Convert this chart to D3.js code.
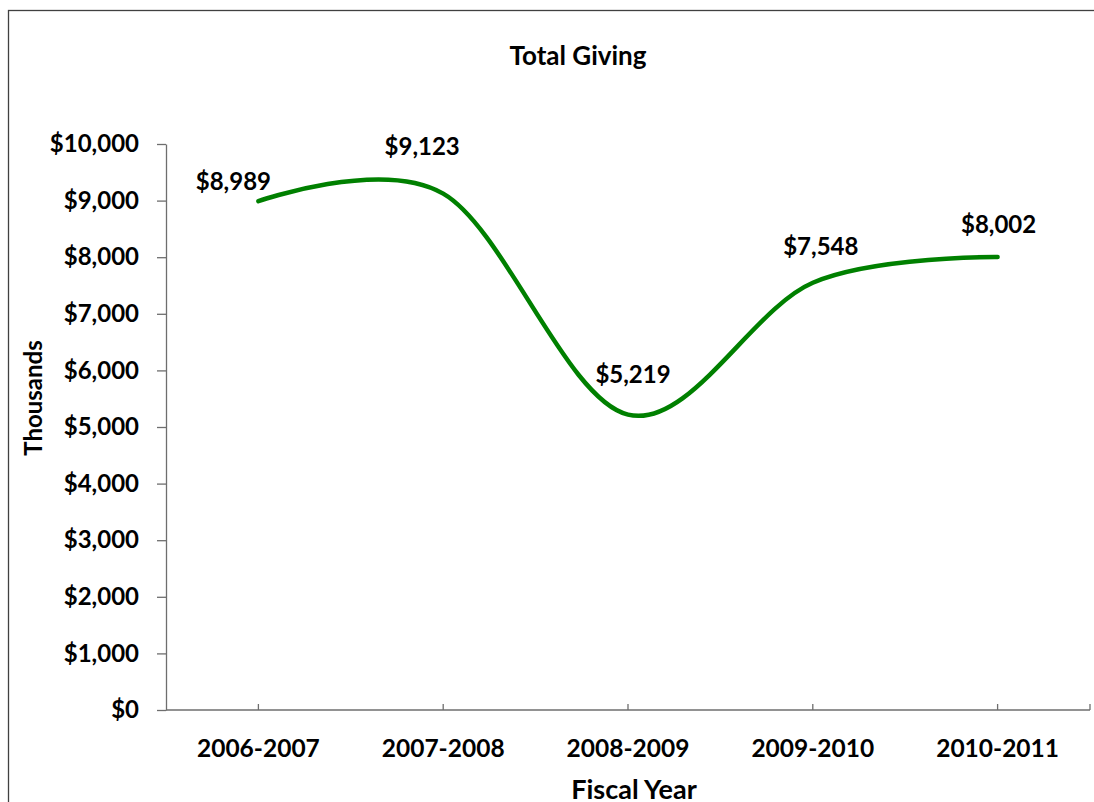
<!DOCTYPE html>
<html>
<head>
<meta charset="utf-8">
<script src="https://cdn.jsdelivr.net/npm/d3@7"></script>
<style>
  body{margin:0;background:#fff;}
  text{font-family:Lato,"Open Sans",sans-serif;font-weight:bold;fill:#000;}
</style>
</head>
<body>
<div id="chart"></div>
<script>
var years = ["2006-2007","2007-2008","2008-2009","2009-2010","2010-2011"];
var giving = [8989, 9123, 5219, 7548, 8002];
var yTicks = [0,1000,2000,3000,4000,5000,6000,7000,8000,9000,10000];
// hand-placed label nudges, [dx, dy] from the point
var labelNudge = [[-25,-11],[-21,-39],[5,-32],[8,-28],[1,-24]];

function drawChart(){
  var W = 1094, H = 802;
  var pLeft = 166, pRight = 1090, pTop = 144, pBottom = 710;
  var axisGrey = "#6e6e6e";

  var svg = d3.select("#chart").append("svg")
    .attr("width", W)
    .attr("height", H);

  // chart border (right and bottom edges run off the picture)
  svg.append("rect")
    .attr("x", 8.5).attr("y", 10.5)
    .attr("width", 1200).attr("height", 1000)
    .attr("fill", "none")
    .attr("stroke", "#404040")
    .attr("stroke-width", 1.3);

  var x = d3.scaleBand().domain(years).range([pLeft, pRight]);
  var y = d3.scaleLinear().domain([0, 10000]).range([pBottom, pTop]);
  var fmt = d3.format("$,");
  var cx = function(d){ return x(d) + x.bandwidth()/2; };

  // y axis
  var yAxis = svg.append("g")
    .attr("transform", "translate(" + pLeft + ",0)")
    .call(d3.axisLeft(y).tickValues(yTicks).tickFormat(fmt).tickSize(9).tickPadding(18).tickSizeOuter(0));
  yAxis.select(".domain").attr("stroke", axisGrey).attr("stroke-width", 1.3);
  yAxis.selectAll(".tick line").attr("stroke", axisGrey).attr("stroke-width", 1.3);
  yAxis.selectAll("text")
    .style("font-family", "Lato, 'Open Sans', sans-serif")
    .style("font-weight", "bold")
    .style("font-size", "24px")
    .attr("fill", "#000");

  // x axis: ticks point up into the plot
  var xAxis = svg.append("g")
    .attr("transform", "translate(0," + pBottom + ")");
  xAxis.append("line")
    .attr("x1", pLeft).attr("x2", pRight)
    .attr("stroke", axisGrey).attr("stroke-width", 1.3);
  var tickXs = years.map(cx).concat([pRight]);
  xAxis.selectAll("line.tk")
    .data(tickXs)
    .enter().append("line")
    .attr("class", "tk")
    .attr("x1", function(d){ return d; }).attr("x2", function(d){ return d; })
    .attr("y1", 0).attr("y2", -6)
    .attr("stroke", axisGrey).attr("stroke-width", 1.3);
  xAxis.selectAll("text.lab")
    .data(years)
    .enter().append("text")
    .attr("class", "lab")
    .attr("x", cx)
    .attr("y", 47)
    .attr("text-anchor", "middle")
    .style("font-size", "24.5px")
    .text(function(d){ return d; });

  // the smoothed line
  var line = d3.line()
    .x(function(d, i){ return cx(years[i]); })
    .y(function(d){ return y(d); })
    .curve(d3.curveCardinal.tension(0));

  svg.append("path")
    .datum(giving)
    .attr("d", line)
    .attr("fill", "none")
    .attr("stroke", "#008000")
    .attr("stroke-width", 4.5)
    .attr("stroke-linecap", "round");

  // value labels
  svg.selectAll("text.val")
    .data(giving)
    .enter().append("text")
    .attr("class", "val")
    .attr("x", function(d, i){ return cx(years[i]) + labelNudge[i][0]; })
    .attr("y", function(d, i){ return y(d) + labelNudge[i][1]; })
    .attr("text-anchor", "middle")
    .style("font-size", "24px")
    .text(function(d){ return fmt(d); });

  // titles
  svg.append("text")
    .attr("x", 578).attr("y", 65)
    .attr("text-anchor", "middle")
    .style("font-size", "26px")
    .text("Total Giving");

  svg.append("text")
    .attr("transform", "translate(42,398) rotate(-90)")
    .attr("text-anchor", "middle")
    .style("font-size", "24px")
    .text("Thousands");

  svg.append("text")
    .attr("x", 634).attr("y", 799)
    .attr("text-anchor", "middle")
    .style("font-size", "27px")
    .text("Fiscal Year");
}

drawChart();
</script>
</body>
</html>
